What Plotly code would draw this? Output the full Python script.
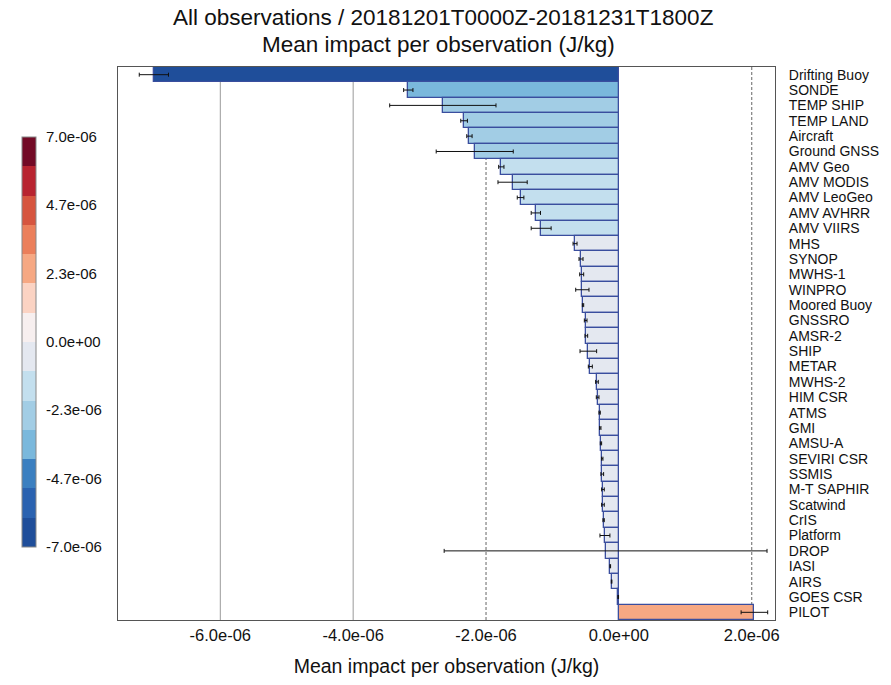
import plotly.graph_objects as go

categories = ["Drifting Buoy", "SONDE", "TEMP SHIP", "TEMP LAND", "Aircraft", "Ground GNSS",
              "AMV Geo", "AMV MODIS", "AMV LeoGeo", "AMV AVHRR", "AMV VIIRS", "MHS", "SYNOP",
              "MWHS-1", "WINPRO", "Moored Buoy", "GNSSRO", "AMSR-2", "SHIP", "METAR", "MWHS-2",
              "HIM CSR", "ATMS", "GMI", "AMSU-A", "SEVIRI CSR", "SSMIS", "M-T SAPHIR", "Scatwind",
              "CrIS", "Platform", "DROP", "IASI", "AIRS", "GOES CSR", "PILOT"]

mean_impact_e6 = [-7.0, -3.17, -2.65, -2.33, -2.25, -2.17, -1.77, -1.60, -1.48, -1.25, -1.17,
                  -0.66, -0.57, -0.56, -0.55, -0.54, -0.50, -0.49, -0.46, -0.43, -0.33, -0.32,
                  -0.29, -0.28, -0.27, -0.25, -0.25, -0.24, -0.24, -0.23, -0.21, -0.20, -0.13,
                  -0.11, -0.01, 2.04]

error_e6 = [0.22, 0.07, 0.80, 0.05, 0.04, 0.58, 0.04, 0.22, 0.05, 0.07, 0.15, 0.03, 0.03,
            0.03, 0.10, 0.01, 0.02, 0.02, 0.125, 0.03, 0.02, 0.02, 0.01, 0.01, 0.01, 0.01,
            0.02, 0.02, 0.02, 0.01, 0.075, 2.43, 0.005, 0.005, 0.005, 0.20]

values = [v * 1e-6 for v in mean_impact_e6]
errors = [e * 1e-6 for e in error_e6]

x_tickvals = [-6e-6, -4e-6, -2e-6, 0.0, 2e-6]
x_ticktext = ["-6.0e-06", "-4.0e-06", "-2.0e-06", "0.0e+00", "2.0e-06"]
cb_tickvals = [-7e-6, -4.667e-6, -2.333e-6, 0.0, 2.333e-6, 4.667e-6, 7e-6]
cb_ticktext = ["-7.0e-06", "-4.7e-06", "-2.3e-06", "0.0e+00", "2.3e-06", "4.7e-06", "7.0e-06"]
grid_solid = [-6e-6, -4e-6]
grid_dashed = [-2e-6, 2e-6]

band_colors = ["#1f4e9a", "#2a62b0", "#3b7fc0", "#7ab8dc", "#a2cde5", "#c3dfee", "#e4e8f0",
               "#f7efef", "#fbd3c3", "#f6a883", "#eb7f5b", "#d6553f", "#b82430", "#730a26"]
n = len(band_colors)
colorscale = []
for i, c in enumerate(band_colors):
    colorscale.append([i / n, c])
    colorscale.append([(i + 1) / n, c])

font = "Liberation Sans, Arial, Helvetica, sans-serif"

fig = go.Figure()
fig.add_trace(go.Bar(
    x=values, y=categories, orientation="h",
    marker=dict(color=values, colorscale=colorscale, cmin=-7e-6, cmax=7e-6,
                line=dict(color="#3a4e9e", width=1.3),
                colorbar=dict(x=-0.1455, xanchor="left", xpad=0, ypad=0,
                              y=0.503, yanchor="middle",
                              len=0.741, lenmode="fraction", thickness=14,
                              outlinewidth=1, outlinecolor="#888888",
                              tickvals=cb_tickvals, ticktext=cb_ticktext,
                              ticks="outside", ticklen=7, tickcolor="rgba(0,0,0,0)",
                              tickfont=dict(size=15, color="#111111", family=font))),
    error_x=dict(type="data", array=errors, color="#111111", thickness=1, width=2),
    showlegend=False,
))

shapes = []
for gx in grid_solid:
    shapes.append(dict(type="line", xref="x", yref="paper", x0=gx, x1=gx, y0=0, y1=1,
                       layer="below", line=dict(color="#9a9a9a", width=1)))
for gx in grid_dashed:
    shapes.append(dict(type="line", xref="x", yref="paper", x0=gx, x1=gx, y0=0, y1=1,
                       layer="below", line=dict(color="#666666", width=1, dash="3px,2px")))

fig.update_layout(
    width=891, height=685,
    margin=dict(l=118, r=113, t=67, b=65),
    paper_bgcolor="white", plot_bgcolor="white",
    font=dict(family=font, color="#111111"),
    bargap=0,
    shapes=shapes,
    annotations=[
        dict(text="All observations / 20181201T0000Z-20181231T1800Z", xref="paper", yref="paper",
             x=0.4955, y=1.0904, showarrow=False, font=dict(size=22.5), xanchor="center", yanchor="middle"),
        dict(text="Mean impact per observation (J/kg)", xref="paper", yref="paper",
             x=0.4885, y=1.0398, showarrow=False, font=dict(size=22.5), xanchor="center", yanchor="middle"),
    ],
    xaxis=dict(range=[-7.54e-6, 2.35e-6], tickvals=x_tickvals, ticktext=x_ticktext,
               showgrid=False, zeroline=False, showline=True, mirror=True,
               linecolor="#555555", linewidth=1, ticks="",
               tickfont=dict(size=16.5), title=dict(text="Mean impact per observation (J/kg)",
                                                    font=dict(size=19.5), standoff=16)),
    yaxis=dict(side="right", autorange=False, range=[35.5, -0.5], showgrid=False,
               tickmode="array", tickvals=categories, ticktext=categories,
               zeroline=False, showline=True, mirror=True, linecolor="#555555", linewidth=1,
               ticks="", ticklabelstandoff=10, tickfont=dict(size=14)),
)

fig.write_html("out.html")
